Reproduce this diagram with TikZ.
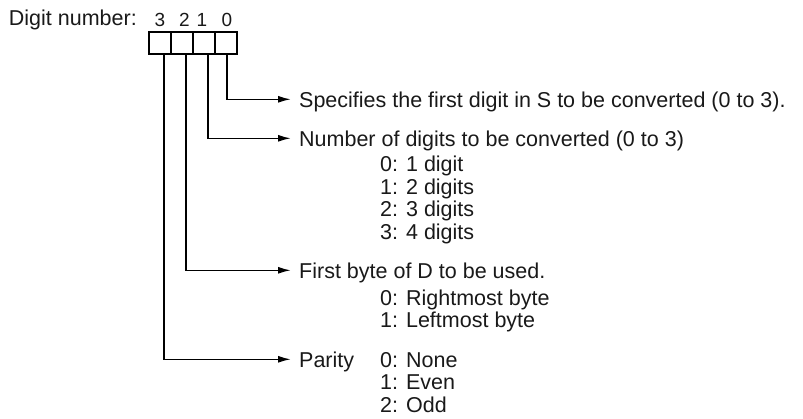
\documentclass[tikz,border=0pt]{standalone}
\usepackage{fontspec}
\setmainfont{Liberation Sans}
\usetikzlibrary{arrows.meta}

\begin{document}
\begin{tikzpicture}[x=1pt,y=-1pt,
  every node/.style={font=\fontsize{21.5}{22.5}\selectfont,text=black!90,inner sep=0pt},
  cell/.style={draw,line width=1.6pt,minimum width=22pt,minimum height=22pt,anchor=north west},
  txt/.style={anchor=base west,text height=15.4pt,text depth=0pt},
  lead/.style={line width=1.6pt,shorten >=8pt,-{Latex[length=13pt,width=7pt]}}]
  \useasboundingbox (0,0) rectangle (803,418);
  \node[anchor=base east] (title) at (137,25) {Digit number:};
  \foreach \i in {0,...,3} {
    \pgfmathsetmacro{\xl}{148+(3-\i)*22}
    \node[cell] (c\i) at (\xl,31) {};
  }
  \foreach \i/\x in {3/160,2/184.5,1/202,0/227}
    \node[anchor=base,font=\fontsize{19}{20}\selectfont] (d\i) at (\x,26.5) {\i};
  % what each digit means
  \node[txt] (l0) at (299,107) {Specifies the first digit in S to be converted (0 to 3).};
  \node[txt] (l1) at (299,146) {Number of digits to be converted (0 to 3)};
  \node[txt] (l2) at (299,278) {First byte of D to be used.};
  \node[txt] (l3) at (299,367) {Parity};
  % the lists hang from the baseline of their last line
  \node[anchor=base west,align=left] (v1) at (380,239) {0: 1 digit\\1: 2 digits\\2: 3 digits\\3: 4 digits};
  \node[anchor=base west,align=left] (v2) at (380,327.5) {0: Rightmost byte\\1: Leftmost byte};
  \node[anchor=base west,align=left] (v3) at (380,412) {0: None\\1: Even\\2: Odd};
  \foreach \i/\dx in {0/1,1/4,2/4,3/4}
    \draw[lead] ([xshift=\dx pt]c\i.south) |- (l\i.west);
\end{tikzpicture}
\end{document}
